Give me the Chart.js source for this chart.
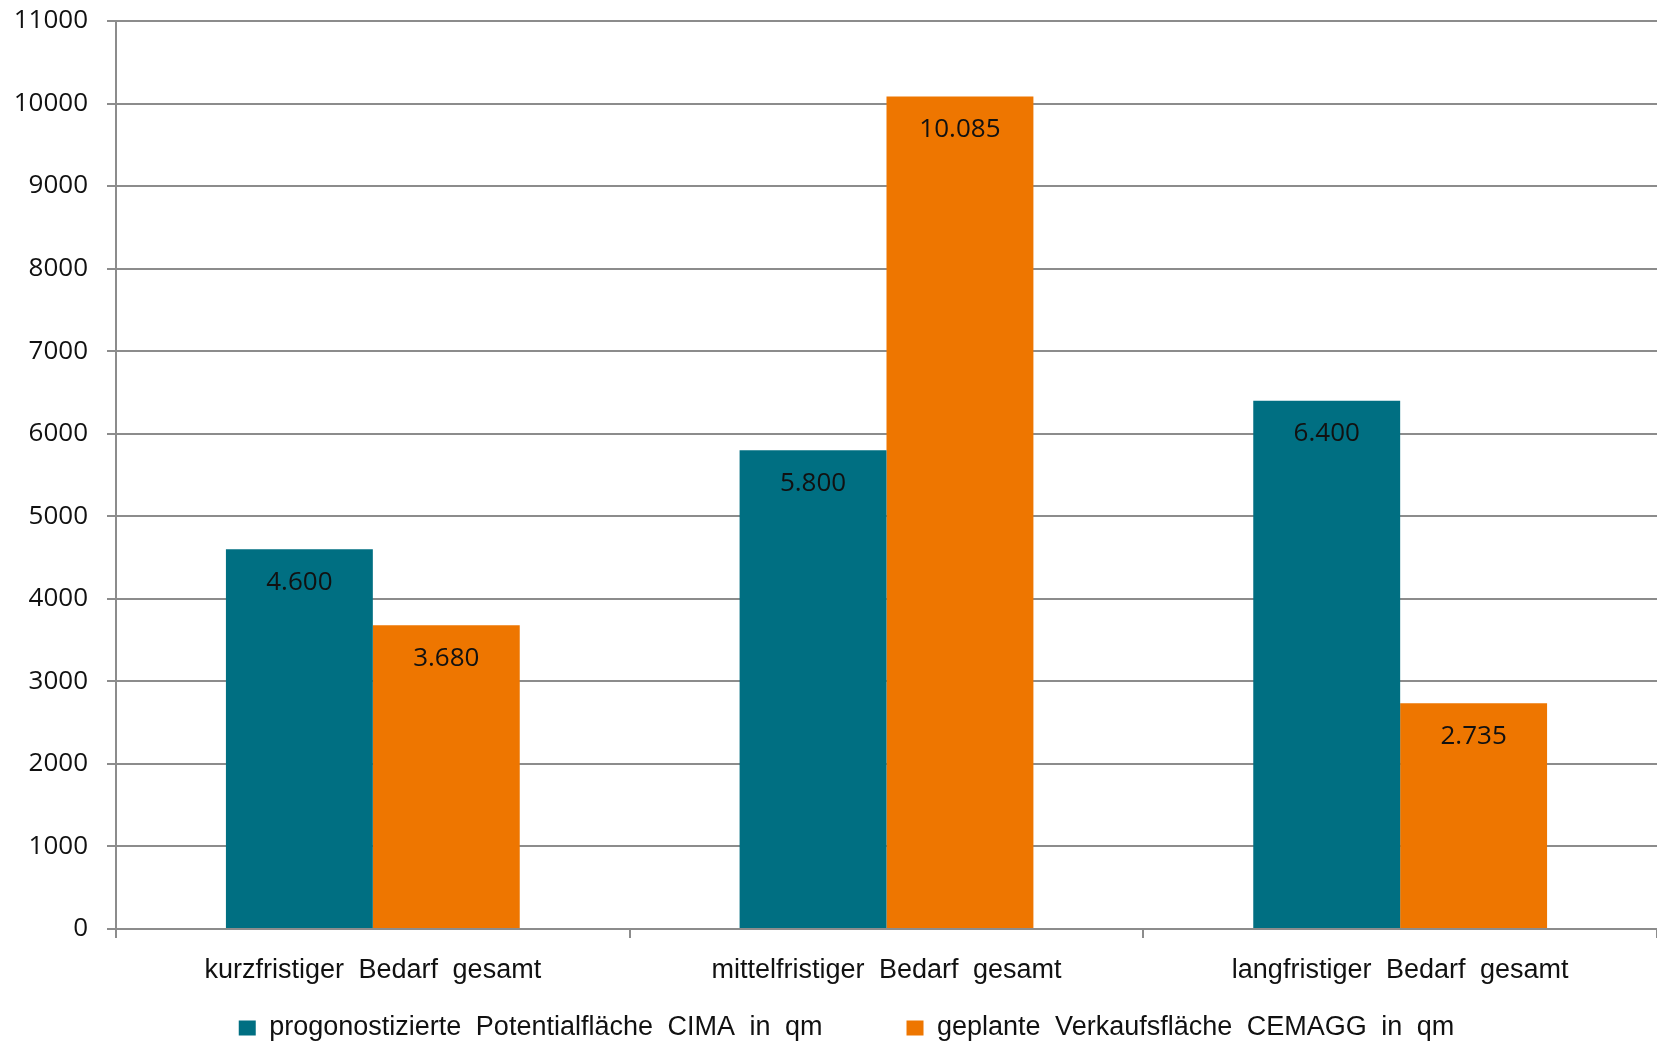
<!DOCTYPE html>
<html>
<head>
<meta charset="utf-8">
<script src="https://cdn.jsdelivr.net/npm/chart.js@4/dist/chart.umd.min.js"></script>
<style>
  html, body { margin: 0; padding: 0; background: #fff; }
  canvas { display: block; }
</style>
</head>
<body>
<canvas id="chart" width="1657" height="1045"></canvas>
<script>
const categories = ["kurzfristiger Bedarf gesamt", "mittelfristiger Bedarf gesamt", "langfristiger Bedarf gesamt"];
const seriesNames = ["progonostizierte Potentialfläche CIMA in qm", "geplante Verkaufsfläche CEMAGG in qm"];
const cimaValues = [4600, 5800, 6400];
const cemaggValues = [3680, 10085, 2735];
const yMin = 0;
const yMax = 11000;
const yStep = 1000;

const teal = "#006f82";
const orange = "#ee7600";
const gridColor = "#8c8c8c";
const textFont = '"Liberation Sans", Arial, sans-serif';
const numFont = '"Open Sans", sans-serif';

// German thousands separator: 4600 -> "4.600"
function fmt(v) {
  return String(v).replace(/\B(?=(\d{3})+(?!\d))/g, ".");
}

// wide word gaps like the original
const wordGap = {
  id: "wordGap",
  beforeUpdate(chart) { chart.ctx.wordSpacing = "7px"; },
  beforeDraw(chart) { chart.ctx.wordSpacing = "7px"; }
};

// pull the legend row up close to the axis labels and a bit to the right
const legendPlace = {
  id: "legendPlace",
  afterLayout(chart) {
    const lg = chart.legend;
    lg.top -= 58.5;
    lg.left += 18;
    lg.right += 18;
  }
};

// value labels inside the top of each bar
const valueLabels = {
  id: "valueLabels",
  afterDatasetsDraw(chart) {
    const ctx = chart.ctx;
    ctx.save();
    ctx.font = "26px " + numFont;
    ctx.fillStyle = "#111";
    ctx.textAlign = "center";
    ctx.textBaseline = "middle";
    chart.data.datasets.forEach((ds, i) => {
      chart.getDatasetMeta(i).data.forEach((bar, j) => {
        ctx.fillText(fmt(ds.data[j]), bar.x, bar.y + 33);
      });
    });
    ctx.restore();
  }
};

const ctx = document.getElementById("chart").getContext("2d");
new Chart(ctx, {
  type: "bar",
  data: {
    labels: categories,
    datasets: [
      { label: seriesNames[0], data: cimaValues, backgroundColor: teal },
      { label: seriesNames[1], data: cemaggValues, backgroundColor: orange }
    ]
  },
  options: {
    responsive: false,
    animation: false,
    devicePixelRatio: 1,
    layout: { padding: { top: 21, left: 0, right: 0, bottom: 0 } },
    datasets: {
      bar: { categoryPercentage: 0.572, barPercentage: 1.0, borderWidth: 0 }
    },
    plugins: {
      tooltip: { enabled: false },
      legend: {
        position: "bottom",
        maxHeight: 56,
        labels: {
          boxWidth: 17,
          boxHeight: 15,
          padding: 84,
          color: "#111",
          font: { family: textFont, size: 27 }
        }
      }
    },
    scales: {
      x: {
        offset: true,
        grid: { display: true, drawOnChartArea: false, drawTicks: true, tickLength: 9, color: gridColor, lineWidth: 2 },
        border: { display: true, color: gridColor, width: 2 },
        ticks: { color: "#111", padding: 16, maxRotation: 0, autoSkip: false, font: { family: textFont, size: 27 } },
        afterFit(scale) {
          scale.height = 60;
          scale.paddingLeft = 0;
          scale.paddingRight = 0;
        }
      },
      y: {
        min: yMin,
        max: yMax,
        grid: { color: gridColor, lineWidth: 2, tickLength: 9 },
        border: { display: true, color: gridColor, width: 2 },
        ticks: {
          stepSize: yStep,
          padding: 19,
          color: "#111",
          font: { family: numFont, size: 26 },
          callback: (v) => String(v)
        },
        afterFit(scale) {
          scale.width = 116;
          scale.paddingTop = 0;
          scale.paddingBottom = 0;
        }
      }
    }
  },
  plugins: [wordGap, legendPlace, valueLabels]
});
</script>
</body>
</html>
